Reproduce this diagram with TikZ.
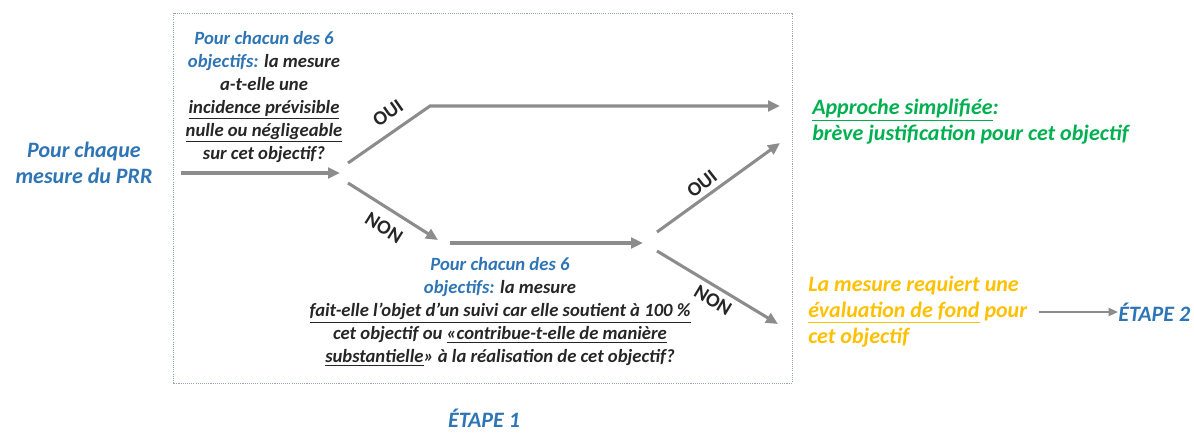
\documentclass[tikz,border=0pt]{standalone}
\usepackage{fontspec}
\setmainfont{Carlito}
\usetikzlibrary{arrows.meta}
\definecolor{ablue}{RGB}{46,117,182}
\definecolor{agreen}{RGB}{0,176,80}
\definecolor{agold}{RGB}{255,192,0}
\definecolor{agray}{RGB}{140,140,140}
\definecolor{atext}{RGB}{38,38,38}
\definecolor{aframe}{RGB}{150,165,185}
\begin{document}
\begin{tikzpicture}[x=0.75pt,y=-0.75pt,
  txt/.style={font=\fontsize{14}{17.25}\selectfont\bfseries\itshape, inner sep=0pt, align=center, text=atext},
  big/.style={font=\fontsize{16.5}{19.5}\selectfont\bfseries\itshape, inner sep=0pt},
  flow/.style={draw=agray, line width=2.3pt, -{Triangle[length=9pt,width=8pt]}},
  thinflow/.style={draw=agray, line width=1.5pt, -{Triangle[length=7pt,width=6pt]}},
  lbl/.style={font=\fontsize{15}{17}\selectfont\bfseries, text=atext, inner sep=0pt}]
\useasboundingbox (0,0) rectangle (1194,437);
\draw[aframe, line width=0.6pt, dash pattern=on 0.8pt off 0.8pt] (173,13) rectangle (792,383);

% text nodes
\node[big, align=center, text=ablue] (start) at (84,163) {Pour chaque\\mesure du PRR};
\node[txt] (q1) at (264,97) {\textcolor{ablue}{Pour chacun des 6}\\\textcolor{ablue}{objectifs:} la mesure\\a-t-elle une\\\underline{incidence prévisible}\\\underline{nulle ou négligeable}\\sur cet objectif?};
\node[txt] (q2) at (500,312) {\textcolor{ablue}{Pour chacun des 6}\\\textcolor{ablue}{objectifs:} la mesure\\\underline{fait-elle l'objet d'un suivi car elle soutient à 100~\%}\\cet objectif ou \underline{«contribue-t-elle de manière}\\\underline{substantielle}» à la réalisation de cet objectif?};
\node[big, text=agreen, align=left, anchor=west] (simp) at (812,122) {\underline{Approche simplifiée}:\\brève justification pour cet objectif};
\node[big, text=agold, align=left, anchor=west] (eval) at (808,312) {La mesure requiert une\\\underline{évaluation de fond} pour\\cet objectif};
\node[big, text=ablue, anchor=west] (e2) at (1118,312) {ÉTAPE 2};
\node[big, text=ablue] (e1) at (484,418) {ÉTAPE 1};

% branch points
\coordinate (a1) at (340,173);
\coordinate (b0) at (348,163);
\coordinate (b1) at (430,106);
\coordinate (b2) at (780,106);
\coordinate (c0) at (348,183);
\coordinate (c1) at (438,240);
\coordinate (m0) at (450,243);
\coordinate (m1) at (643,243);
\coordinate (d0) at (657,232);
\coordinate (d1) at (780,143);
\coordinate (f0) at (657,251);
\coordinate (f1) at (778,324);

% connectors
\draw[flow] ([xshift=21pt]start.east |- a1) -- (a1);
\draw[flow] (b0) -- (b1) -- (b2);
\draw[flow] (c0) -- (c1);
\draw[flow] (m0) -- (m1);
\draw[flow] (d0) -- (d1);
\draw[flow] (f0) -- (f1);
\draw[thinflow] ([xshift=9pt]eval.east) -- (e2.west);

% labels
\node[lbl, rotate=35] (oui1) at (388,113) {OUI};
\node[lbl, rotate=-32] (non1) at (384,228) {NON};
\node[lbl, rotate=38] (oui2) at (702,184) {OUI};
\node[lbl, rotate=-31] (non2) at (713,300) {NON};
\end{tikzpicture}
\end{document}
